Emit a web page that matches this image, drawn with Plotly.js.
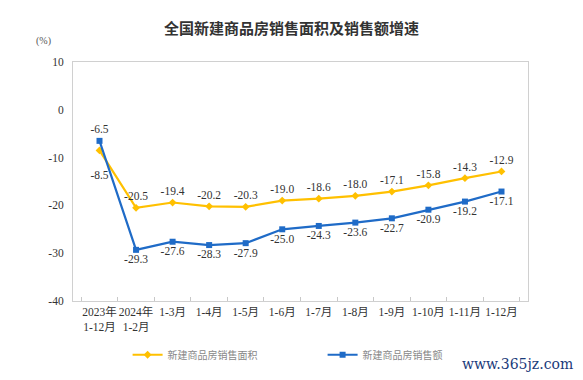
<!DOCTYPE html>
<html><head><meta charset="utf-8">
<script src="https://cdn.plot.ly/plotly-3.0.1.min.js"></script>
<style>html,body{margin:0;padding:0;background:#fff;}#chart{width:583px;height:380px;}</style>
</head><body><div id="chart"></div>
<script>
const categories = ["2023年<br>1-12月","2024年<br>1-2月","1-3月","1-4月","1-5月","1-6月","1-7月","1-8月","1-9月","1-10月","1-11月","1-12月"];
const areaGrowth = [-8.5,-20.5,-19.4,-20.2,-20.3,-19.0,-18.6,-18.0,-17.1,-15.8,-14.3,-12.9];
const salesGrowth = [-6.5,-29.3,-27.6,-28.3,-27.9,-25.0,-24.3,-23.6,-22.7,-20.9,-19.2,-17.1];
const seriesNames = ["新建商品房销售面积","新建商品房销售额"];
const yTicks = [-40,-30,-20,-10,0,10];

const serif = "Liberation Serif, Noto Sans CJK SC, serif";
const areaPos = areaGrowth.map((v,i)=> i===0 ? "bottom center" : "top center");
const salesPos = salesGrowth.map((v,i)=> i===0 ? "top center" : "bottom center");
const areaText = areaGrowth.map((v,i)=> (i===0 ? "<br>" : "") + v.toFixed(1));

const traces = [
 {x:categories, y:areaGrowth, name:seriesNames[0], type:"scatter", mode:"lines+markers+text",
  line:{color:"#FFC000", width:2.2}, marker:{symbol:"diamond", size:6, color:"#FFC000"},
  text:areaText, textposition:areaPos,
  textfont:{family:serif, size:11.5, color:"#333"}, cliponaxis:false},
 {x:categories, y:salesGrowth, name:seriesNames[1], type:"scatter", mode:"lines+markers+text",
  line:{color:"#1F6BC7", width:2.2}, marker:{symbol:"square", size:6, color:"#1F6BC7"},
  text:salesGrowth.map(v=>v.toFixed(1)), textposition:salesPos,
  textfont:{family:serif, size:11.5, color:"#333"}, cliponaxis:false}
];

const layout = {
 width:583, height:380,
 margin:{l:73, r:55, t:62, b:79, autoexpand:false},
 paper_bgcolor:"#fff", plot_bgcolor:"#fff",
 title:{text:"全国新建商品房销售面积及销售额增速", x:0.5, xanchor:"center", y:0.925, yanchor:"middle",
   font:{family:"Noto Sans CJK SC, sans-serif", size:15, color:"#333", weight:"bold"}},
 showlegend:true,
 legend:{orientation:"h", x:0.12, xanchor:"left", y:-0.225, yanchor:"middle",
   font:{family:"Noto Sans CJK SC, serif", size:10, color:"#888"}, entrywidth:150, itemwidth:30,
   bgcolor:"rgba(0,0,0,0)"},
 xaxis:{type:"category", tickson:"boundaries", ticks:"inside", ticklen:4, tickcolor:"#c8c8c8",
   showline:true, linecolor:"#d0d0d0", mirror:true, showgrid:false, zeroline:false, automargin:false,
   tickfont:{family:serif, size:11.5, color:"#333"}, tickangle:0, fixedrange:true},
 yaxis:{range:[-40,10], tickvals:yTicks, ticktext:yTicks.map(String), showgrid:false, zeroline:false,
   showline:true, linecolor:"#d0d0d0", mirror:true, ticks:"", ticklabelstandoff:6, automargin:false,
   tickfont:{family:serif, size:11.5, color:"#333"}},
 annotations:[
  {text:"(%)", xref:"paper", yref:"paper", x:-0.065, y:1.055, xanchor:"center", yanchor:"bottom", showarrow:false,
   font:{family:serif, size:10, color:"#555"}},
  {text:"www.365jz.com", xref:"paper", yref:"paper", x:1.103, y:-0.265, xanchor:"right", yanchor:"middle", showarrow:false,
   font:{family:"DejaVu Serif, serif", size:14, color:"#1a3a7a"}}
 ]
};
Plotly.newPlot("chart", traces, layout, {staticPlot:true});
</script></body></html>
